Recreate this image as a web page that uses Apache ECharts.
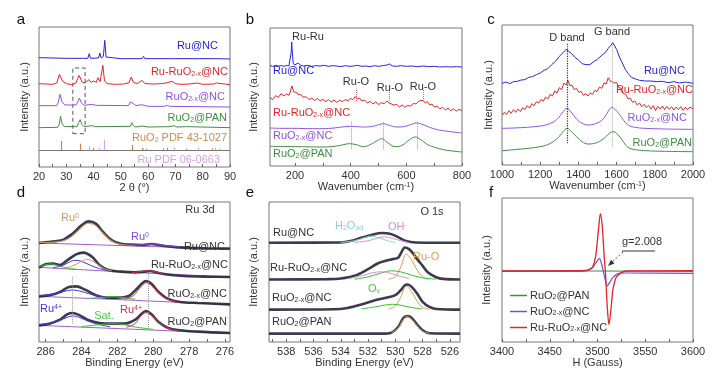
<!DOCTYPE html>
<html><head><meta charset="utf-8">
<script src="https://cdn.jsdelivr.net/npm/echarts@6/dist/echarts.min.js"></script>
<style>html,body{margin:0;padding:0;background:#fff}#c{width:720px;height:380px}</style>
</head><body><div id="c"></div>
<script>
// ---------- tick labels ----------
const aLabels = [20,30,40,50,60,70,80,90];
const aTicks = [20,25,30,35,40,45,50,55,60,65,70,75,80,85,90];
const bLabels = [200,400,600,800];
const bTicks = [200,300,400,500,600,700,800];
const cLabels = [1000,1200,1400,1600,1800,2000];
const cTicks = [1000,1100,1200,1300,1400,1500,1600,1700,1800,1900,2000];
const dLabels = [286,284,282,280,278,276];
const dTicks = [286,285,284,283,282,281,280,279,278,277,276];
const eLabels = [538,536,534,532,530,528,526];
const eTicks = [539,538,537,536,535,534,533,532,531,530,529,528,527,526];
const fLabels = [3400,3450,3500,3550,3600];
const fTicks = [3400,3425,3450,3475,3500,3525,3550,3575,3600];

// ---------- panel a : XRD ----------
const aRuNC = [[20,328],[30,326],[36,326],[37.9,326],[38.4,340],[38.9,326],[41.8,327],[42.3,342],[42.8,327],[43.6,332],[44.1,380],[44.6,330],[45.3,326],[50,325],[57.8,325],[58.3,332],[58.8,325],[68.9,325],[69.4,330],[69.9,325],[77.9,325],[78.4,330],[78.9,325],[84.2,325],[84.7,331],[85.2,325],[90,324]];
const aRuRuO2 = [[20,250],[25,248],[26.5,252],[27.5,278],[28.6,258],[30,250],[32,247],[33.5,252],[34.7,275],[35.8,255],[36.8,252],[37.5,258],[38.3,262],[39,254],[40,258],[41,254],[41.6,268],[42.4,256],[43.4,305],[44,258],[45,250],[48,248],[51,249],[53,253],[53.8,270],[54.6,254],[56,250],[57.8,260],[58.8,250],[62,249],[65,250],[67,253],[68.8,257],[70,250],[72,248],[75,249],[78,252],[80,248],[84,249],[85,252],[90,247]];
const aRuO2x = [[20,184],[26.5,184],[27.1,195],[27.7,218],[28.4,196],[29.5,186],[33.5,186],[34.2,195],[34.8,207],[35.5,193],[36.5,185],[39.5,188],[40.2,190],[41,185],[52.8,184],[53.5,195],[54,200],[54.6,190],[55.5,184],[57.5,187],[58.2,186],[60,182],[66,182],[67,185],[68,182],[90,180]];
const aRuO2PAN = [[20,118],[26.8,119],[27.4,128],[27.9,152],[28.5,128],[29.5,121],[34,122],[34.6,134],[35.1,142],[35.7,128],[36.5,121],[39.5,124],[40,127],[40.7,121],[53.5,122],[54,133],[54.6,124],[55.5,120],[57.8,123],[58.3,122],[60,120],[68,121],[69.5,124],[70.5,120],[74,121],[90,118]];
const aPdfBase = 50;
const aPdfRuO2 = [[28.0,28],[35.1,20],[40.0,7],[54.3,16],[57.9,7],[59.4,4],[65.5,6],[67.0,8],[69.6,8],[74.0,4],[83.4,6]];
const aPdfRu = [[38.4,12],[42.2,7],[44.0,32],[58.3,5],[69.4,7],[78.4,8],[84.7,8],[85.9,5]];
const aBox = [[32.4,100],[36.9,297]];

// ---------- panel b : Raman low ----------
const bRuNC = [[110,301],[120,299],[130,302],[140,300],[150,301],[160,299],[170,302],[178,300],[183,306],[186,340],[188,372],[190,345],[193,310],[198,303],[205,306],[212,309],[220,302],[230,300],[245,302],[260,299],[275,301],[290,300],[305,302],[320,299],[335,301],[350,300],[365,298],[380,301],[395,299],[410,300],[425,302],[440,299],[455,300],[470,298],[485,301],[500,299],[515,301],[530,303],[540,306],[550,300],[565,299],[580,301],[600,299],[620,300],[640,298],[660,300],[680,298],[700,299],[720,297],[740,298],[760,297],[780,298],[800,297]];
const bRuRuO2 = [[110,205],[120,199],[130,211],[140,206],[150,217],[160,210],[170,216],[178,212],[183,222],[186,233],[189,240],[192,231],[196,222],[200,218],[206,221],[212,213],[220,215],[230,206],[240,208],[250,199],[260,204],[270,196],[280,203],[290,195],[300,200],[310,193],[320,199],[330,192],[340,198],[350,191],[360,197],[370,193],[380,199],[390,196],[400,203],[408,199],[416,208],[424,201],[432,204],[440,195],[450,198],[460,189],[470,194],[480,186],[490,192],[500,184],[510,190],[520,187],[530,195],[538,189],[545,193],[555,183],[565,185],[575,177],[585,183],[595,176],[605,182],[615,179],[625,188],[635,186],[645,195],[652,190],[660,197],[668,189],[676,193],[684,183],[692,186],[700,177],[710,180],[720,171],[730,176],[740,168],[750,174],[760,166],[770,171],[780,165],[790,170],[800,166]];
const bRuO2x = [[110,114],[150,113],[200,113],[250,112],[300,112],[340,114],[380,118],[400,119],[420,118],[450,117],[480,119],[500,124],[518,127],[535,123],[566,117],[590,118],[615,124],[638,129],[660,124],[698,112],[740,105],[800,99]];
const bRuO2PAN = [[110,59],[200,58],[300,57],[350,60],[380,65],[395,67],[420,64],[446,58],[470,64],[495,76],[512,82],[530,72],[560,58],[585,62],[610,78],[632,87],[650,80],[675,65],[698,57],[740,48],[800,42]];
const bRuOred = [420,538,660];
const bRuOgray = [402,518,638];

// ---------- panel c : Raman D/G ----------
const cRuNC = [[1000,245],[1020,249],[1040,244],[1060,250],[1080,251],[1100,255],[1120,256],[1140,263],[1160,265],[1180,271],[1200,276],[1220,284],[1240,289],[1260,301],[1280,311],[1300,326],[1320,337],[1335,347],[1350,341],[1365,334],[1380,324],[1400,315],[1420,304],[1440,301],[1460,301],[1480,310],[1500,317],[1520,328],[1540,337],[1555,349],[1570,359],[1580,367],[1590,357],[1600,347],[1615,324],[1630,306],[1645,287],[1660,275],[1680,262],[1700,258],[1720,254],[1750,252],[1780,252],[1810,250],[1840,251],[1870,247],[1900,250],[1930,246],[1960,249],[2000,245]];
const cRuRuO2 = [[1000,150],[1012,158],[1024,152],[1036,163],[1048,155],[1060,166],[1072,158],[1084,168],[1096,160],[1108,172],[1120,166],[1132,178],[1144,171],[1156,184],[1168,178],[1180,190],[1192,186],[1204,197],[1216,191],[1228,204],[1240,198],[1252,212],[1264,207],[1276,222],[1288,216],[1300,232],[1312,226],[1324,246],[1336,240],[1345,254],[1355,238],[1366,240],[1378,226],[1390,230],[1402,218],[1414,221],[1426,209],[1438,214],[1450,207],[1462,216],[1474,212],[1486,224],[1498,220],[1510,234],[1522,230],[1534,246],[1546,243],[1556,262],[1566,252],[1576,258],[1588,246],[1600,248],[1612,232],[1624,230],[1636,214],[1648,212],[1660,198],[1672,200],[1684,188],[1696,192],[1708,180],[1720,186],[1732,175],[1744,182],[1756,172],[1768,179],[1780,168],[1792,178],[1804,163],[1816,176],[1828,168],[1840,177],[1852,166],[1864,176],[1876,167],[1888,175],[1900,165],[1912,174],[1924,166],[1936,175],[1948,164],[1960,173],[1972,166],[1984,174],[2000,168]];
const cRuO2x = [[1000,110],[1100,112],[1200,117],[1250,124],[1290,138],[1320,160],[1340,170],[1360,160],[1390,138],[1420,125],[1450,120],[1490,124],[1530,138],[1555,160],[1575,173],[1595,165],[1620,148],[1645,128],[1670,117],[1710,112],[1750,110],[1850,108],[2000,107]];
const cRuO2PAN = [[1000,43],[1100,48],[1200,55],[1250,64],[1290,80],[1320,100],[1340,110],[1360,102],[1390,85],[1420,70],[1450,63],[1490,66],[1530,78],[1560,94],[1580,100],[1600,95],[1625,78],[1650,58],[1670,50],[1710,45],[1750,43],[1850,41],[2000,40]];
const cDband = 1340, cGband = 1577;

// ---------- panel d : Ru 3d XPS ----------
const dRuNC = [[286.37,297],[285.9,300],[285.5,302],[285,307],[284.5,325],[284,350],[283.6,362],[283.2,355],[282.8,330],[282.3,305],[281.8,295],[281.3,292],[280.6,291],[280.1,294],[279.6,290],[279,286],[278.3,283],[277,281],[275.72,280]];
const dRuNC_bg = [[286.37,297],[275.72,279]];
const dRuNC_ru0a = [[286.37,298],[285.5,300],[285,304],[284.5,318],[284,343],[283.65,356],[283.2,349],[282.8,327],[282.3,303],[281.8,293],[281,289]];
const dRuNC_ru0b = [[281.6,290],[280.8,291],[280.2,294],[279.7,293],[279.2,288],[278.5,285]];
const dRuRuO2 = [[286.37,223],[286,233],[285.6,235],[285.2,231],[284.8,245],[284.3,263],[283.9,268],[283.4,255],[283,231],[282.5,216],[281.8,211],[281,209],[280.5,211],[280.2,213],[279.7,207],[279,201],[278.3,198],[277,196],[275.72,195]];
const dRuRuO2_bg = [[286.37,224],[282,211],[275.72,195]];
const dRuRuO2_g = [[286.37,226],[286,232],[285.7,234],[285.3,229],[284.8,222],[284.3,218]];
const dRuRuO2_b = [[285.6,222],[285,231],[284.6,242],[284.3,245],[284,242],[283.5,230],[283,220],[282.5,214]];
const dRuRuO2_o = [[285,221],[284.5,228],[284,242],[283.7,248],[283.3,240],[282.8,222],[282.3,213]];
const dRuRuO2_r = [[281.2,208],[280.6,212],[280.3,214],[280,212],[279.4,204]];
const dRuO2x = [[286.37,137],[285.8,140],[285.2,150],[284.7,165],[284.3,167],[283.8,157],[283.2,140],[282.6,133],[282,133],[281.4,137],[281,155],[280.6,177],[280.4,183],[280.1,175],[279.7,150],[279.2,130],[278.5,120],[277.5,117],[275.72,113]];
const dRuO2x_bg = [[286.37,137],[281,125],[275.72,112]];
const dRuO2x_b = [[286.37,139],[285.8,142],[285.2,148],[284.8,154],[284.5,156],[284.1,153],[283.6,145],[283,137],[282.4,132]];
const dRuO2x_g = [[283.5,131],[282.8,134],[282.3,136],[281.8,134],[281,128]];
const dRuO2x_r = [[281.6,128],[281.1,140],[280.7,165],[280.4,178],[280.1,170],[279.7,148],[279.2,128],[278.6,118]];
const dRuO2PAN = [[286.37,50],[285.8,55],[285.2,67],[284.8,83],[284.5,87],[284.1,80],[283.6,65],[283,57],[282.3,55],[281.6,55],[281,67],[280.6,87],[280.4,93],[280.1,83],[279.7,60],[279.2,43],[278.5,35],[277.5,31],[275.72,27]];
const dRuO2PAN_bg = [[286.37,50],[281,38],[275.72,26]];
const dRuO2PAN_b = [[286.37,52],[285.8,56],[285.2,65],[284.8,74],[284.5,78],[284.1,73],[283.6,62],[283,52],[282.4,46]];
const dRuO2PAN_g = [[284,46],[283,52],[282.3,55],[281.6,52],[281,45],[280,38]];
const dRuO2PAN_r = [[281.5,44],[281,56],[280.7,78],[280.4,88],[280.1,80],[279.7,60],[279.2,42],[278.6,33]];
const dMarks = [284.5, 280.3];

// ---------- panel e : O 1s XPS ----------
const eRuNC = [[539.26,297],[534,298],[533.3,302],[532.5,312],[531.7,321],[531,326],[530.4,324],[529.8,314],[529.2,302],[528.5,298],[525.26,297]];
const eRuNC_h2o = [[534,298],[533,303],[532.3,312],[531.8,317],[531.2,312],[530.5,302],[530,298]];
const eRuNC_oh = [[533,298],[532,303],[531.3,311],[530.8,315],[530.2,310],[529.6,303],[529,298]];
const eRuRuO2 = [[539.26,187],[535,188],[534,190],[533,198],[532,218],[531.3,235],[530.7,243],[530.2,248],[529.8,252],[529.6,265],[529.3,283],[529.0,278],[528.7,265],[528.4,248],[528.0,228],[527.6,208],[527,194],[526.5,189],[525.26,187]];
const eRuRuO2_o = [[530.5,188],[530,195],[529.6,225],[529.2,263],[528.8,245],[528.4,215],[528,195],[527.5,188]];
const eRuRuO2_g = [[533,188],[532,195],[531,207],[530.3,213],[529.6,210],[528.8,200],[528,192],[527,188]];
const eRuRuO2_oh = [[533.5,189],[532.5,198],[531.7,207],[531,210],[530.3,205],[529.6,196],[529,190]];
const eRuO2x = [[539.26,97],[534.5,98],[533.5,102],[532.5,112],[531.5,125],[530.6,133],[530,140],[529.6,155],[529.3,170],[529.1,172],[528.8,165],[528.4,145],[528,120],[527.5,105],[527,99],[525.26,97]];
const eRuO2x_o = [[530.5,98],[530,108],[529.6,135],[529.2,167],[528.8,150],[528.4,122],[528,104],[527.5,98]];
const eRuO2x_g = [[532.5,99],[531.5,105],[530.7,111],[530.2,113],[529.6,110],[528.8,103],[528,99]];
const eRuO2PAN = [[539.26,25],[531,25],[530.3,28],[529.8,45],[529.4,72],[529.1,78],[528.8,72],[528.4,52],[528,35],[527.5,26],[525.26,25]];
const eRuO2PAN_o = [[530.3,26],[529.8,42],[529.4,68],[529.15,76],[528.8,68],[528.4,48],[528,32],[527.5,26]];

// ---------- panel f : EPR ----------
const fRuO2PAN = [[3400,212],[3500,212],[3600,211]];
const fRuO2x = [[3400,211],[3480,211],[3490,214],[3495,222],[3498,235],[3500,243],[3502,250],[3504,236],[3506,212],[3508,187],[3510,167],[3513,179],[3516,192],[3520,202],[3525,206],[3530,206],[3600,205]];
const fRuRuO2 = [[3400,212],[3480,213],[3488,214],[3492,218],[3495,225],[3498,255],[3501,335],[3503,383],[3505,345],[3507,255],[3508.5,200],[3510,115],[3512,52],[3514,95],[3516,155],[3518,180],[3520,195],[3525,207],[3530,212],[3600,213]];

// ---------- styling ----------
const FONT = '"Liberation Sans", Arial, sans-serif';
const BLUE='#2626d6', RED='#e32525', PUR='#8e52e2', GRN='#3f8f3f', PDFB='#c8874e', PDFP='#d8a2e6';
const XDATA='#26263a', BG='#a060c8';

const chart = echarts.init(document.getElementById('c'), null, {renderer:'canvas'});

const grids = [
  {left:39, top:27, width:191, height:140},
  {left:270, top:28, width:192, height:138},
  {left:502, top:25, width:191, height:140},
  {left:39, top:202, width:191, height:140},
  {left:269, top:202, width:191, height:140},
  {left:502, top:198, width:191, height:144}
].map(g => Object.assign({show:true, borderColor:'#777', borderWidth:1, backgroundColor:'transparent'}, g));

const richAxis = {p:{fontSize:7, verticalAlign:'top', lineHeight:8, color:'#333'}};
function xa(g, min, max, labels, ticks, name, inverse) {
  return {gridIndex:g, type:'value', min, max, inverse:!!inverse,
    axisLine:{show:false}, splitLine:{show:false},
    axisTick:{show:true, inside:true, length:3, lineStyle:{color:'#666'}, customValues:ticks},
    axisLabel:{customValues:labels, fontSize:11, color:'#333', fontFamily:FONT, margin:4, formatter:v => String(v)},
    name, nameLocation:'middle', nameGap:15,
    nameTextStyle:{fontSize:11, color:'#333', fontFamily:FONT, rich:richAxis}};
}
function ya(g, max) {
  return {gridIndex:g, type:'value', min:0, max, axisLine:{show:false}, axisTick:{show:false}, axisLabel:{show:false}, splitLine:{show:false}};
}
const xAxes = [
  xa(0,20,90,aLabels,aTicks,'2 θ (°)'),
  xa(1,110,800,bLabels,bTicks,'Wavenumber (cm{p|-1})'),
  xa(2,1000,2000,cLabels,cTicks,'Wavenumber (cm{p|-1})'),
  xa(3,275.72,286.37,dLabels,dTicks,'Binding Energy (eV)',true),
  xa(4,525.26,539.26,eLabels,eTicks,'Binding Energy (eV)',true),
  xa(5,3400,3600,fLabels,fTicks,'H (Gauss)')
];
const yAxes = [ya(0,420), ya(1,414), ya(2,420), ya(3,420), ya(4,419), ya(5,430)];

function L(g, data, color, w, extra) {
  return Object.assign({type:'line', xAxisIndex:g, yAxisIndex:g, data, symbol:'none', showSymbol:false,
    silent:true, animation:false, lineStyle:{color, width:w||1}, itemStyle:{color}}, extra||{});
}
function seg(x1,y1,x2,y2,color,type,w) {
  return [{coord:[x1,y1], lineStyle:{color, type:type||'solid', width:w||1}}, {coord:[x2,y2]}];
}
function ML(data) { return {silent:true, symbol:['none','none'], label:{show:false}, animation:false, data}; }

const series = [];
// a
const aML = [seg(20,aPdfBase,90,aPdfBase,'#777')];
aPdfRuO2.forEach(p => aML.push(seg(p[0],aPdfBase,p[0],aPdfBase+p[1],PDFB,'solid',1.2)));
aPdfRu.forEach(p => aML.push(seg(p[0],aPdfBase,p[0],aPdfBase+p[1],PDFP,'solid',1.2)));
series.push(L(0,aRuNC,BLUE,1));
series.push(L(0,aRuRuO2,RED,1));
series.push(L(0,aRuO2x,PUR,1));
series.push(L(0,aRuO2PAN,GRN,1,{markLine:ML(aML), markArea:{silent:true, animation:false,
  itemStyle:{color:'rgba(0,0,0,0)', borderColor:'#555', borderWidth:1, borderType:[4,3]},
  data:[[{coord:aBox[0]},{coord:aBox[1]}]]}}));
// b
const bML = [];
bRuOred.forEach(x => bML.push(seg(x,195,x,232,'#e06060','dotted')));
bRuOgray.forEach(x => bML.push(seg(x,50,x,135,'#999','dotted')));
series.push(L(1,bRuNC,BLUE,1));
series.push(L(1,bRuRuO2,RED,1));
series.push(L(1,bRuO2x,PUR,1,{smooth:0.4}));
series.push(L(1,bRuO2PAN,GRN,1,{smooth:0.4, markLine:ML(bML)}));
// c
series.push(L(2,cRuNC,BLUE,1));
series.push(L(2,cRuRuO2,RED,1));
series.push(L(2,cRuO2x,PUR,1,{smooth:0.4}));
series.push(L(2,cRuO2PAN,GRN,1,{smooth:0.4, markLine:ML([seg(cDband,65,cDband,365,'#333','dotted',1.2), seg(cGband,55,cGband,365,'#aaa','dotted')])}));
// d
const SM = {smooth:0.35};
[[dRuNC_bg,BG],[dRuRuO2_bg,BG],[dRuO2x_bg,BG],[dRuO2PAN_bg,BG]].forEach(s => series.push(L(3,s[0],s[1],1)));
[dRuNC,dRuRuO2,dRuO2x,dRuO2PAN].forEach(s => series.push(L(3,s,XDATA,2.6,{smooth:0.35, lineStyle:{color:XDATA,width:2.6,opacity:0.9}})));
series.push(L(3,dRuNC_ru0a,'#d99a55',1,SM));
series.push(L(3,dRuNC_ru0b,'#7d4bd6',1,SM));
series.push(L(3,dRuRuO2_g,'#33c133',1,SM));
series.push(L(3,dRuRuO2_b,'#3a3ae0',1,SM));
series.push(L(3,dRuRuO2_o,'#d99a55',1,SM));
series.push(L(3,dRuRuO2_r,'#d03040',1,SM));
series.push(L(3,dRuO2x_b,'#3a3ae0',1,SM));
series.push(L(3,dRuO2x_g,'#33c133',1,SM));
series.push(L(3,dRuO2x_r,'#d03040',1,SM));
series.push(L(3,dRuO2PAN_b,'#3a3ae0',1,SM));
series.push(L(3,dRuO2PAN_g,'#33c133',1,SM));
series.push(L(3,dRuO2PAN_r,'#d03040',1,Object.assign({markLine:ML([seg(dMarks[0],55,dMarks[0],195,'#999','dotted'), seg(dMarks[1],45,dMarks[1],205,'#999','dotted')])},SM)));
// e
[eRuNC,eRuRuO2,eRuO2x,eRuO2PAN].forEach(s => series.push(L(4,s,XDATA,2.6,{smooth:0.35, lineStyle:{color:XDATA,width:2.6,opacity:0.9}})));
series.push(L(4,eRuNC_h2o,'#8fd0d8',1,SM));
series.push(L(4,eRuNC_oh,'#d48fd8',1,SM));
series.push(L(4,eRuRuO2_o,'#d99a55',1,SM));
series.push(L(4,eRuRuO2_g,'#33c133',1,SM));
series.push(L(4,eRuRuO2_oh,'#d48fd8',1,SM));
series.push(L(4,eRuO2x_o,'#d99a55',1,SM));
series.push(L(4,eRuO2x_g,'#33c133',1,SM));
series.push(L(4,eRuO2PAN_o,'#d99a55',1,SM));
// f
series.push(L(5,fRuO2PAN,GRN,1.2,{name:'fPAN'}));
series.push(L(5,fRuO2x,'#7a4ed8',1.2,{name:'fNC',smooth:0.3}));
series.push(L(5,fRuRuO2,RED,1.3,{name:'fRu',smooth:0.3}));

// ---------- text ----------
function rich(size,color){ return {s:{fontSize:Math.round(size*0.65), lineHeight:8, verticalAlign:'bottom', fill:color, fontFamily:FONT},
  p:{fontSize:Math.round(size*0.65), lineHeight:8, verticalAlign:'top', fill:color, fontFamily:FONT}}; }
function T(text,x,y,color,align,size){ size=size||11; color=color||'#333';
  return {type:'text', x, y, silent:true, z:100, style:{text, fill:color, font:size+'px '+FONT, textAlign:align||'center', textVerticalAlign:'middle', rich:rich(size,color)}}; }
function YT(x,y){ return {type:'text', x, y, rotation:Math.PI/2, silent:true, style:{text:'Intensity (a.u.)', fill:'#333', font:'11px '+FONT, textAlign:'center', textVerticalAlign:'middle'}}; }

const graphics = [
  T('a',21,20,'#111','center',15), T('b',250,20,'#111','center',15), T('c',491,20,'#111','center',15),
  T('d',21,193,'#111','center',15), T('e',250,193,'#111','center',15), T('f',491,193,'#111','center',15),
  YT(25,97), YT(254,97), YT(489,95), YT(25,272), YT(254,272), YT(487,270),
  // a
  T('Ru@NC',218,46,BLUE,'right'), T('Ru-RuO{s|2-x}@NC',228,72,RED,'right'), T('RuO{s|2-x}@NC',225,97,PUR,'right'),
  T('RuO{s|2}@PAN',227,118,GRN,'right'), T('RuO{s|2} PDF 43-1027',227,138,'#d08a50','right'), T('Ru PDF 06-0663',220,160,'#d99fe3','right'),
  // b
  T('Ru-Ru',308,37,'#333'), T('Ru@NC',273,71,BLUE,'left'), T('Ru-O',356,82,'#333'), T('Ru-O',390,88,'#333'), T('Ru-O',423,87,'#333'),
  T('Ru-RuO{s|2-x}@NC',273,113,RED,'left'), T('RuO{s|2-x}@NC',273,136,PUR,'left'), T('RuO{s|2}@PAN',273,154,GRN,'left'),
  // c
  T('D band',567,38,'#333'), T('G band',612,32,'#333'), T('Ru@NC',685,71,BLUE,'right'), T('Ru-RuO{s|2-x}@NC',693,90,RED,'right'),
  T('RuO{s|2-x}@NC',687,118,PUR,'right'), T('RuO{s|2}@PAN',692,143,GRN,'right'),
  // d
  T('Ru 3d',200,210,'#333'), T('Ru{p|0}',70,218,'#d99a55'), T('Ru{p|0}',140,237,'#7d4bd6'), T('Ru@NC',225,247,'#333','right'),
  T('Ru-RuO{s|2-x}@NC',228,265,'#333','right'), T('RuO{s|2-x}@NC',227,294,'#333','right'),
  T('Ru{p|4+}',51,309,'#3a3ae0'), T('Sat.',104,316,'#44cc44'), T('Ru{p|4+}',131,310,'#d03040'), T('RuO{s|2}@PAN',227,322,'#333','right'),
  // e
  T('O 1s',432,212,'#333'), T('Ru@NC',273,233,'#333','left'), T('H{s|2}O{s|ad}',335,226,'#8fd0d8','left'), T('OH{p|-}',388,227,'#d48fd8','left'),
  T('Ru-RuO{s|2-x}@NC',270,268,'#333','left'), T('Ru-O',413,257,'#d99a55','left'), T('O{s|v}',368,289,'#44cc44','left'),
  T('RuO{s|2-x}@NC',272,298,'#333','left'), T('RuO{s|2}@PAN',272,322,'#333','left'),
  // f
  T('g=2.008',622,242,'#333','left'),
  {type:'line', silent:true, shape:{x1:622,y1:251,x2:655,y2:251}, style:{stroke:'#333', lineWidth:1}},
  {type:'line', silent:true, shape:{x1:623,y1:252,x2:611,y2:263}, style:{stroke:'#555', lineWidth:1, lineDash:[2,2]}},
  {type:'polygon', silent:true, shape:{points:[[608,266],[614.4,263.4],[611,259.8]]}, style:{fill:'#333'}}
];

const fNames = {fPAN:'RuO{s|2}@PAN', fNC:'RuO{s|2-x}@NC', fRu:'Ru-RuO{s|2-x}@NC'};
chart.setOption({
  animation:false,
  textStyle:{fontFamily:FONT},
  grid:grids, xAxis:xAxes, yAxis:yAxes, series,
  legend:{left:505, top:285, orient:'vertical', icon:'rect', itemWidth:17, itemHeight:1.5, itemGap:5, selectedMode:false,
    data:['fPAN','fNC','fRu'], formatter:n=>fNames[n],
    textStyle:{fontSize:11, color:'#333', fontFamily:FONT, padding:[0,0,0,-2],
      rich:{s:{fontSize:7, lineHeight:8, verticalAlign:'bottom', color:'#333'}}}},
  graphic:graphics
});
</script></body></html>
